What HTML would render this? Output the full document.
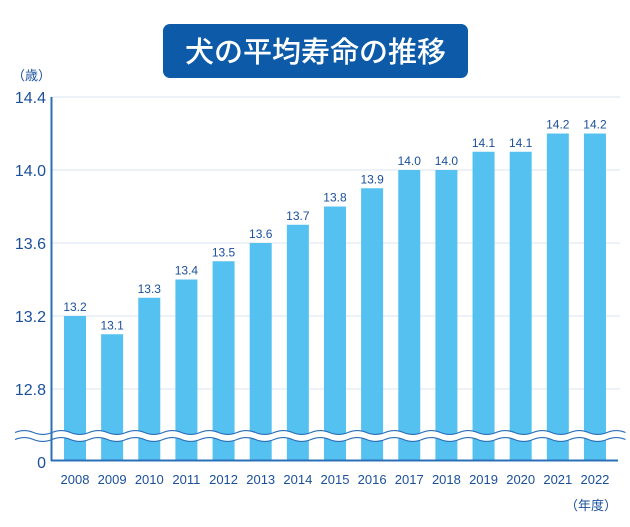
<!DOCTYPE html>
<html><head><meta charset="utf-8"><style>
body{margin:0;background:#fff;}
svg text{font-family:"Liberation Sans","Noto Sans CJK JP",sans-serif;}
</style></head><body>
<svg width="630" height="522" viewBox="0 0 630 522" xmlns="http://www.w3.org/2000/svg">
<rect x="163" y="24" width="305" height="54" rx="7" fill="#0c5aa8"/>
<text x="315.5" y="62" text-anchor="middle" font-size="29" fill="#fff" font-weight="500" style="font-family:'Noto Sans CJK JP',sans-serif">犬の平均寿命の推移</text>
<text x="12" y="80" font-size="13" fill="#1a4f9c" style="font-family:'Noto Sans CJK JP',sans-serif">（歳）</text>
<g stroke="#e6edf6" stroke-width="1.5">
<line x1="52" y1="97" x2="620" y2="97"/>
<line x1="52" y1="170" x2="620" y2="170"/>
<line x1="52" y1="243" x2="620" y2="243"/>
<line x1="52" y1="316" x2="620" y2="316"/>
<line x1="52" y1="389" x2="620" y2="389"/>
</g>
<g font-size="16" fill="#1a4f9c" text-anchor="end">
<text x="46" y="103">14.4</text>
<text x="46" y="176">14.0</text>
<text x="46" y="249">13.6</text>
<text x="46" y="322">13.2</text>
<text x="46" y="395">12.8</text>
<text x="46" y="468">0</text>
</g>
<g fill="#55c1f0" id="bars"></g>
<g font-size="12" fill="#1a4f9c" text-anchor="middle" id="lbl"></g>
<g font-size="13" fill="#1a4f9c" text-anchor="middle" id="yrs"></g>
<path id="wv" d="" fill="none" stroke="#fff" stroke-width="7"/>
<path id="w1" d="" fill="none" stroke="#2a6fb8" stroke-width="1.2"/>
<path id="w2" d="" fill="none" stroke="#2a6fb8" stroke-width="1.2"/>
<line x1="51.5" y1="97" x2="51.5" y2="461" stroke="#2a6fb8" stroke-width="2"/>
<line x1="51" y1="460.5" x2="618" y2="460.5" stroke="#2a6fb8" stroke-width="2"/>
<text x="591" y="510" font-size="13" fill="#1a4f9c" text-anchor="middle" style="font-family:'Noto Sans CJK JP',sans-serif">（年度）</text>
</svg>
<script>
var ns="http://www.w3.org/2000/svg";
var v=[13.2,13.1,13.3,13.4,13.5,13.6,13.7,13.8,13.9,14.0,14.0,14.1,14.1,14.2,14.2];
function el(t,a,p,txt){var e=document.createElementNS(ns,t);for(var k in a)e.setAttribute(k,a[k]);if(txt)e.textContent=txt;document.getElementById(p).appendChild(e);}
for(var i=0;i<15;i++){var cx=75+i*37.14;var y=170+(14.0-v[i])*182.5;
el("rect",{x:cx-11,y:y,width:22,height:460-y},"bars");
el("text",{x:cx,y:y-5},"lbl",v[i].toFixed(1));
el("text",{x:cx,y:484},"yrs",String(2008+i));}
function wave(off){var d="M15 "+(436+off);var n=0;for(var x=15;x<620;x+=18.5){var h=(n%2==0)?-3:3;n++;d+=" Q"+(x+9.25)+" "+(436+off+h*1.3)+" "+(x+18.5)+" "+(436+off);}return d;}
document.getElementById("wv").setAttribute("d",wave(0));
document.getElementById("w1").setAttribute("d",wave(-3.5));
document.getElementById("w2").setAttribute("d",wave(3.5));
</script>
</body></html>
